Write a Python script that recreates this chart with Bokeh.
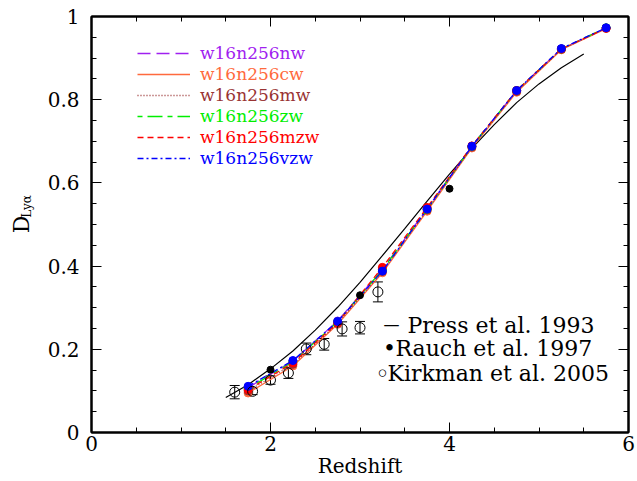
import math
from bokeh.plotting import figure
from bokeh.models import (LinearAxis, Range1d, NumeralTickFormatter, Label, Legend, LegendItem,
                          ColumnDataSource, Whisker, TeeHead, SingleIntervalTicker, FixedTicker,
                          CustomJSTickFormatter)
from bokeh.embed import file_html
from bokeh.resources import INLINE

# ---------------- data ----------------
sim_z = [1.75, 2.25, 2.75, 3.25, 3.75, 4.25, 4.75, 5.25, 5.75]
d_nw = [0.108, 0.172, 0.268, 0.392, 0.538, 0.688, 0.822, 0.922, 0.972]
d_cw = [0.095, 0.160, 0.260, 0.384, 0.532, 0.684, 0.818, 0.920, 0.971]
d_mw = [0.100, 0.164, 0.262, 0.387, 0.535, 0.686, 0.820, 0.921, 0.972]
d_zw = [0.106, 0.170, 0.266, 0.391, 0.537, 0.688, 0.822, 0.922, 0.973]
d_mzw = [0.103, 0.167, 0.264, 0.397, 0.541, 0.689, 0.822, 0.922, 0.972]
d_vzw = [0.111, 0.173, 0.267, 0.388, 0.537, 0.688, 0.822, 0.923, 0.973]
series_names = ["w16n256nw", "w16n256cw", "w16n256mw", "w16n256zw", "w16n256mzw", "w16n256vzw"]

press_z = [1.5, 1.75, 2.0, 2.25, 2.5, 2.75, 3.0, 3.25, 3.5, 3.75, 4.0, 4.25, 4.5, 4.75, 5.0, 5.25, 5.5]
press_d = [0.084, 0.115, 0.153, 0.196, 0.246, 0.301, 0.361, 0.425, 0.490, 0.556, 0.621, 0.683,
           0.740, 0.793, 0.838, 0.877, 0.910]

rauch_z = [2.0, 3.0, 4.0]
rauch_d = [0.151, 0.330, 0.586]

kirk_z = [1.6, 1.8, 2.0, 2.2, 2.4, 2.6, 2.8, 3.0, 3.2]
kirk_d = [0.097, 0.099, 0.126, 0.143, 0.201, 0.212, 0.249, 0.252, 0.338]
kirk_err = [0.016, 0.008, 0.010, 0.013, 0.014, 0.014, 0.017, 0.015, 0.024]

# ---------------- styles ----------------
colors = ["#a020f0", "#ff6a3d", "#993333", "#00ee00", "#ff0000", "#0000ff"]
dashes = ["13 6", "solid", "1 2", "5 5 15 5", "6 4", "6 3 2 3"]
FONT = "DejaVu Serif"

p = figure(frame_width=537, frame_height=416, x_range=Range1d(0, 6), y_range=Range1d(0, 1),
           output_backend="svg", toolbar_location=None, x_axis_type=None, y_axis_type=None,
           min_border_left=91, min_border_right=9, min_border_top=16, min_border_bottom=49)
p.xgrid.visible = False
p.ygrid.visible = False
p.outline_line_color = "black"
p.outline_line_width = 2
p.background_fill_color = "white"
p.border_fill_color = "white"

xt = SingleIntervalTicker(interval=2, num_minor_ticks=4)
yt = SingleIntervalTicker(interval=0.2, num_minor_ticks=4)

bottom = LinearAxis(ticker=xt, formatter=NumeralTickFormatter(format="0"), axis_label="Redshift")
left = LinearAxis(ticker=yt, formatter=NumeralTickFormatter(format="0.[0]"))
top = LinearAxis(ticker=xt, formatter=CustomJSTickFormatter(code="return ''"))
right = LinearAxis(ticker=yt, formatter=CustomJSTickFormatter(code="return ''"))

for ax in [bottom, left, top, right]:
    ax.major_tick_in = 10
    ax.major_tick_out = 0
    ax.minor_tick_in = 5
    ax.minor_tick_out = 0
    ax.axis_line_width = 2
    ax.axis_line_color = "black"
    ax.major_tick_line_color = "black"
    ax.minor_tick_line_color = "black"
    ax.major_tick_line_width = 1
    ax.minor_tick_line_width = 1
    ax.major_label_text_font = FONT
    ax.major_label_text_font_size = "20px"
    ax.major_label_text_color = "black"
    ax.axis_label_text_font = FONT
    ax.axis_label_text_font_size = "20px"
    ax.axis_label_text_font_style = "normal"
    ax.axis_label_text_color = "black"
for ax in [top, right]:
    ax.major_label_text_font_size = "0px"
    ax.major_label_standoff = 0

bottom.major_label_standoff = 3
bottom.axis_label_standoff = 0
left.major_label_standoff = 12

p.add_layout(bottom, "below")
p.add_layout(left, "left")
p.add_layout(top, "above")
p.add_layout(right, "right")

# y-axis title D_{Lyα}: two label-only axes on the left (subscript next to the D)
def label_axis(text, size, standoff):
    ax = LinearAxis(ticker=FixedTicker(ticks=[]), axis_label=text)
    ax.axis_line_color = None
    ax.major_tick_in = 0
    ax.major_tick_out = 0
    ax.minor_tick_in = 0
    ax.minor_tick_out = 0
    ax.major_label_text_font_size = "0px"
    ax.major_label_standoff = 0
    ax.axis_label_standoff = standoff
    ax.axis_label_text_font = FONT
    ax.axis_label_text_font_size = size
    ax.axis_label_text_font_style = "normal"
    ax.axis_label_text_color = "black"
    return ax

p.add_layout(label_axis("\u2003\u2003\u2003Ly\u03b1", "12px", 11), "left")
p.add_layout(label_axis("D", "22px", -17), "left")

# Press et al. curve
p.line(press_z, press_d, line_color="black", line_width=1.2)

# simulations
all_d = [d_nw, d_cw, d_mw, d_zw, d_mzw, d_vzw]
line_renderers = []
for name, col, dash, vals in zip(series_names, colors, dashes, all_d):
    r = p.line(sim_z, vals, line_color=col, line_dash=dash, line_width=1.3)
    p.scatter(sim_z, vals, size=8, fill_color=col, line_color=col)
    line_renderers.append(r)

# Rauch
p.scatter(rauch_z, rauch_d, size=7, fill_color="black", line_color="black")

# Kirkman
ksrc = ColumnDataSource(dict(z=kirk_z, d=kirk_d,
                             lo=[d - e for d, e in zip(kirk_d, kirk_err)],
                             hi=[d + e for d, e in zip(kirk_d, kirk_err)]))
p.add_layout(Whisker(source=ksrc, base="z", lower="lo", upper="hi", line_color="black", line_width=1,
                     upper_head=TeeHead(size=10, line_color="black", line_width=1),
                     lower_head=TeeHead(size=10, line_color="black", line_width=1)))
p.scatter("z", "d", source=ksrc, size=10, fill_color=None, line_color="black", line_width=1)

# top-left legend, one per series (label colour per series)
row_centres = [53, 74, 95, 116, 137, 158]
for name, col, r, yc in zip(series_names, colors, line_renderers, row_centres):
    leg = Legend(items=[LegendItem(label=name, renderers=[r])], location=(46, 432 - yc - 10),
                 padding=0, margin=0, spacing=0, glyph_width=53, glyph_height=20,
                 label_height=20, label_standoff=10,
                 label_text_font=FONT, label_text_font_size="17px", label_text_color=col,
                 background_fill_alpha=0, border_line_alpha=0)
    p.add_layout(leg)

# bottom-right legend
def lab(x, y, text, align="left", size="22px"):
    p.add_layout(Label(x=x, y=y, x_units="screen", y_units="screen", text=text,
                       text_align=align, text_baseline="middle", text_font=FONT,
                       text_font_size=size, text_color="black"))

lab(300, 108, "\u2014", "center", "16px")
lab(316, 107, "Press et al. 1993")
lab(298, 84, "\u2022", "center")
lab(304, 84, "Rauch et al. 1997")
lab(291, 59, "\u25e6", "center", "24px")
lab(296, 59, "Kirkman et al. 2005")

open("out.html", "w").write(file_html(p, INLINE))
